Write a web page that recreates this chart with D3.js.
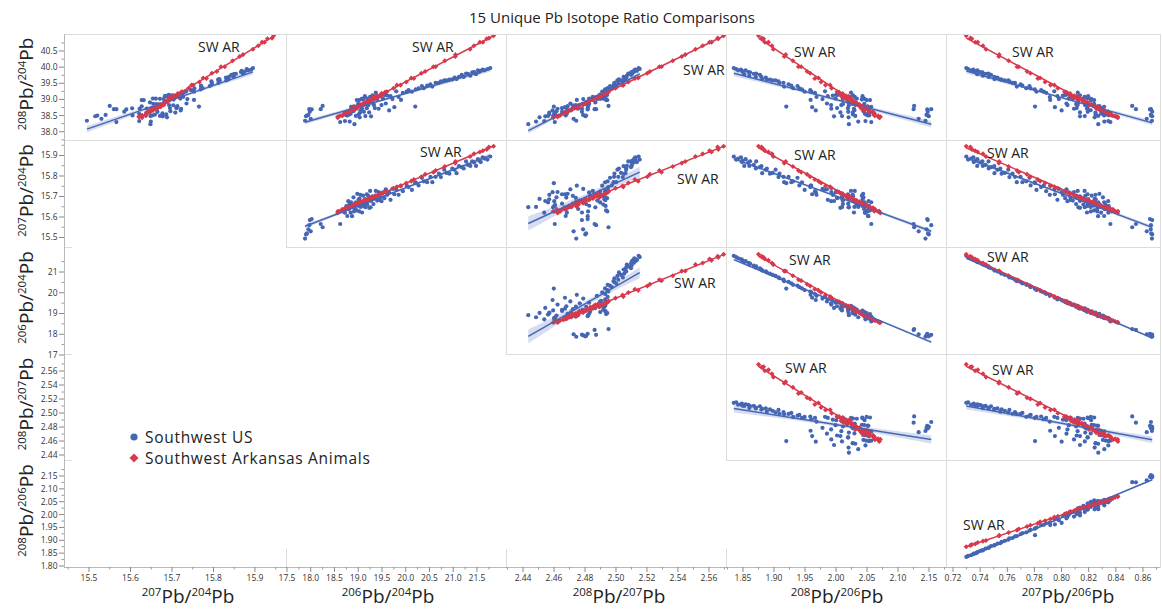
<!DOCTYPE html>
<html><head><meta charset="utf-8">
<script src="https://cdn.jsdelivr.net/npm/d3@7"></script>
<style>
body{margin:0;background:#fff;}
svg{display:block;font-family:'Open Sans',sans-serif;}
</style>
</head><body>
<svg id="chart" width="1162" height="609"></svg>
<script>
// ---------------- DATA ----------------
// Southwest US samples (206Pb/204Pb, 207Pb/204Pb, 208Pb/204Pb)
const blue206 = [17.88,17.90,17.92,17.95,17.97,18.02,18.00,17.98,18.21,18.25,18.62,
 18.72,18.75,18.77,18.79,18.80,18.82,18.84,18.85,18.87,18.88,18.90,18.92,18.93,18.95,18.97,18.98,19.00,19.02,19.03,19.05,19.07,19.08,19.10,19.12,19.14,19.15,19.17,19.19,19.21,19.23,19.25,19.27,19.30,19.32,19.35,19.37,19.40,19.43,19.46,19.49,19.52,19.55,19.58,19.61,19.65,19.68,19.72,19.76,19.80,19.85,19.90,
 19.94,20.02,20.06,20.13,20.20,20.21,20.27,20.34,20.38,20.45,20.52,20.56,20.63,20.70,20.74,20.81,20.86,20.92,20.98,21.03,21.07,21.12,21.18,21.22,21.27,21.31,21.36,21.40,21.44,21.48,21.52,21.55,21.58,21.62,21.66,21.72,21.78,
 18.81,18.91,19.01,19.11,19.18,19.26,19.33,19.44,19.57,19.04];
const blue207 = [15.495,15.515,15.520,15.540,15.560,15.590,15.530,15.585,15.566,15.550,15.566,
 15.621,15.653,15.605,15.677,15.638,15.649,15.621,15.672,15.604,15.655,15.696,15.648,15.639,15.671,15.632,15.713,15.655,15.627,15.688,15.649,15.671,15.622,15.704,15.665,15.687,15.648,15.680,15.661,15.703,15.645,15.727,15.678,15.701,15.663,15.695,15.727,15.680,15.722,15.695,15.677,15.720,15.692,15.735,15.708,15.721,15.684,15.737,15.711,15.734,15.708,15.753,
 15.726,15.753,15.746,15.732,15.765,15.769,15.754,15.791,15.774,15.770,15.796,15.770,15.796,15.812,15.795,15.831,15.815,15.811,15.836,15.830,15.814,15.848,15.843,15.837,15.871,15.854,15.849,15.872,15.866,15.849,15.882,15.875,15.868,15.891,15.885,15.880,15.895,
 15.659,15.627,15.686,15.654,15.711,15.647,15.693,15.683,15.724,15.708];
const blue208 = [38.34,38.48,38.50,38.52,38.70,38.69,38.40,38.62,38.70,38.80,38.30,
 38.329,38.508,38.506,38.568,38.584,38.315,38.557,38.771,38.725,38.739,38.637,38.234,38.716,38.490,38.980,38.792,38.867,38.980,38.446,38.666,39.018,38.712,38.997,38.617,39.100,38.485,38.860,39.024,38.820,38.597,39.082,38.479,39.130,38.856,38.734,39.209,39.011,38.712,39.120,38.826,39.027,39.140,38.874,39.120,38.659,39.100,39.010,38.760,39.250,39.076,38.984,
 39.205,39.242,39.287,39.242,38.780,39.311,39.342,39.417,39.350,39.427,39.470,39.400,39.513,39.514,39.557,39.592,39.589,39.611,39.620,39.679,39.632,39.698,39.761,39.696,39.803,39.795,39.734,39.835,39.849,39.782,39.904,39.855,39.885,39.926,39.900,39.943,39.970,
 38.532,38.786,38.538,39.030,38.730,38.909,38.826,39.100,39.148,38.594];

// Southwest Arkansas Animals samples
const red206 = [18.567,18.571,18.614,18.678,18.662,18.725,18.702,18.749,18.802,18.789,18.826,18.830,18.896,18.883,18.907,18.954,18.920,18.977,18.984,18.998,19.054,19.041,19.098,19.065,19.118,19.145,19.122,19.206,19.192,19.219,19.263,19.250,19.316,19.310,19.357,19.354,19.357,19.414,19.401,19.474,19.488,19.512,19.565,19.602,19.743,19.814,19.891,20.012,20.116,20.170,20.328,20.409,20.583,20.630,20.822,21.044,21.047,21.356,21.437,21.561,21.625,21.706,21.753,21.850];
const red207 = [15.620,15.628,15.628,15.628,15.637,15.639,15.639,15.645,15.642,15.646,15.650,15.649,15.654,15.651,15.661,15.660,15.660,15.665,15.662,15.672,15.668,15.674,15.673,15.670,15.680,15.681,15.680,15.688,15.683,15.688,15.693,15.691,15.695,15.694,15.702,15.701,15.703,15.708,15.704,15.715,15.714,15.715,15.722,15.725,15.740,15.747,15.751,15.766,15.775,15.783,15.796,15.808,15.818,15.827,15.846,15.863,15.871,15.895,15.908,15.917,15.923,15.930,15.941,15.945];
const red208 = [38.462,38.437,38.493,38.509,38.495,38.581,38.564,38.616,38.612,38.595,38.658,38.674,38.657,38.730,38.705,38.728,38.761,38.724,38.777,38.773,38.836,38.799,38.842,38.844,38.830,38.903,38.886,38.952,38.935,38.918,38.993,38.996,38.979,39.065,39.028,39.051,39.097,39.060,39.112,39.108,39.184,39.170,39.226,39.237,39.345,39.442,39.444,39.541,39.664,39.650,39.809,39.866,40.010,40.011,40.196,40.331,40.387,40.553,40.660,40.774,40.769,40.877,40.898,40.970];

const seriesNames = ["Southwest US", "Southwest Arkansas Animals"];

// variables of the matrix
const rowVars = ["208/204", "207/204", "206/204", "208/207", "208/206"];
const colVars = ["207/204", "206/204", "208/207", "208/206", "207/206"];

// tick labels
const rowTicks = [
  [38.0, 38.5, 39.0, 39.5, 40.0, 40.5],
  [15.5, 15.6, 15.7, 15.8, 15.9],
  [17, 18, 19, 20, 21],
  [2.44, 2.46, 2.48, 2.50, 2.52, 2.54, 2.56],
  [1.80, 1.85, 1.90, 1.95, 2.00, 2.05, 2.10, 2.15]
];
const colTicks = [
  [15.5, 15.6, 15.7, 15.8, 15.9],
  [17.5, 18.0, 18.5, 19.0, 19.5, 20.0, 20.5, 21.0, 21.5],
  [2.44, 2.46, 2.48, 2.50, 2.52, 2.54, 2.56],
  [1.85, 1.90, 1.95, 2.00, 2.05, 2.10, 2.15],
  [0.72, 0.74, 0.76, 0.78, 0.80, 0.82, 0.84, 0.86]
];
const rowTickFmt = [".1f", ".1f", "d", ".2f", ".2f"];
const colTickFmt = [".1f", ".1f", ".2f", ".2f", ".2f"];
const rowDomains = [[37.7446, 41.026], [15.4537, 15.9756], [17.048, 22.205], [2.4329, 2.5843], [1.7961, 2.2122]];
const colDomains = [[15.4398, 15.9747], [17.479, 22.111], [2.429, 2.571], [1.8226, 2.1774], [0.71484, 0.87254]];

// ---------------- LAYOUT ----------------
const colEdges = [64, 286, 506, 726, 946, 1160];
const rowEdges = [34, 140, 247, 354, 460, 567];
const colors = ["#4466b4", "#d7394d"];
const annot = [ // "SW AR" label positions (pixel)
  [0,0,198,52],[0,1,412,52],[0,2,683,75],[0,3,794,57],[0,4,1012,57],
  [1,1,420,157],[1,2,677,184],[1,3,794,160],[1,4,987,158],
  [2,2,674,288],[2,3,789,265],[2,4,987,262],
  [3,3,785,373],[3,4,992,375],
  [4,4,963,530]
];
const xTitleCenters = [188, 388, 619, 837, 1068];

const svg = d3.select("#chart");
const defs = svg.append("defs");

function samples(k) {
  const a = k === 0 ? blue206 : red206, b = k === 0 ? blue207 : red207, c = k === 0 ? blue208 : red208;
  return a.map((_, i) => ({
    "206/204": a[i], "207/204": b[i], "208/204": c[i],
    "207/206": b[i] / a[i], "208/206": c[i] / a[i], "208/207": c[i] / b[i]
  }));
}
const data = [samples(0), samples(1)];

const xScales = colDomains.map((d, j) => d3.scaleLinear().domain(d).range([colEdges[j], colEdges[j + 1]]));
const yScales = rowDomains.map((d, i) => d3.scaleLinear().domain(d).range([rowEdges[i + 1], rowEdges[i]]));

function fit(xs, ys) {
  const n = xs.length, mx = d3.mean(xs), my = d3.mean(ys);
  let sxx = 0, sxy = 0;
  for (let i = 0; i < n; i++) { sxx += (xs[i] - mx) ** 2; sxy += (xs[i] - mx) * (ys[i] - my); }
  const b = sxy / sxx, a = my - b * mx;
  let sse = 0;
  for (let i = 0; i < n; i++) sse += (ys[i] - a - b * xs[i]) ** 2;
  const s = Math.sqrt(sse / (n - 2));
  return { a, b, mx, sxx, s, n, x0: d3.min(xs), x1: d3.max(xs) };
}

// cell frames
const gFrames = svg.append("g");
for (let i = 0; i < 5; i++) for (let j = i; j < 5; j++) {
  gFrames.append("rect")
    .attr("x", colEdges[j] + 0.5).attr("y", rowEdges[i] + 0.5)
    .attr("width", colEdges[j + 1] - colEdges[j]).attr("height", rowEdges[i + 1] - rowEdges[i])
    .attr("fill", "none").attr("stroke", "#dcdcdc").attr("stroke-width", 1);
}
[286, 506, 726].forEach(x => gFrames.append("line").attr("x1", x + 0.5).attr("x2", x + 0.5)
  .attr("y1", 549).attr("y2", 567).attr("stroke", "#dcdcdc"));
[247, 354, 460].forEach(y => gFrames.append("line").attr("x1", 64).attr("x2", 72)
  .attr("y1", y + 0.5).attr("y2", y + 0.5).attr("stroke", "#dcdcdc"));

const diamond = d3.symbol(d3.symbolSquare, 13);

// panels
for (let i = 0; i < 5; i++) for (let j = i; j < 5; j++) {
  const xs = xScales[j], ys = yScales[i];
  const cid = `clip${i}${j}`;
  defs.append("clipPath").attr("id", cid).append("rect")
    .attr("x", colEdges[j] + 1).attr("y", rowEdges[i] + 1)
    .attr("width", colEdges[j + 1] - colEdges[j] - 1).attr("height", rowEdges[i + 1] - rowEdges[i] - 1);
  const g = svg.append("g").attr("clip-path", `url(#${cid})`);
  const fits = data.map(d => fit(d.map(p => p[colVars[j]]), d.map(p => p[rowVars[i]])));
  fits.forEach((f, k) => {
    const pts = d3.range(41).map(q => {
      const x = f.x0 + (f.x1 - f.x0) * q / 40;
      const yh = f.a + f.b * x;
      const h = 1.98 * f.s * Math.sqrt(1 / f.n + (x - f.mx) ** 2 / f.sxx);
      return [x, yh - h, yh + h];
    });
    g.append("path").datum(pts)
      .attr("d", d3.area().x(p => xs(p[0])).y0(p => ys(p[1])).y1(p => ys(p[2])))
      .attr("fill", colors[k]).attr("opacity", 0.22);
  });
  g.append("g").selectAll("circle").data(data[0]).join("circle")
    .attr("cx", p => xs(p[colVars[j]])).attr("cy", p => ys(p[rowVars[i]]))
    .attr("r", 2.1).attr("fill", colors[0]);
  g.append("g").selectAll("path").data(data[1]).join("path")
    .attr("transform", p => `translate(${xs(p[colVars[j]])},${ys(p[rowVars[i]])}) rotate(45)`)
    .attr("d", diamond).attr("fill", colors[1]);
  fits.forEach((f, k) => {
    g.append("line")
      .attr("x1", xs(f.x0)).attr("y1", ys(f.a + f.b * f.x0))
      .attr("x2", xs(f.x1)).attr("y2", ys(f.a + f.b * f.x1))
      .attr("stroke", colors[k]).attr("stroke-width", 1.5);
  });
}

annot.forEach(([i, j, x, y]) => svg.append("text").attr("x", x).attr("y", y)
  .attr("font-size", 14).attr("fill", "#222").text("SW AR"));

svg.append("line").attr("x1", 64.5).attr("x2", 64.5).attr("y1", 34).attr("y2", 567.5).attr("stroke", "#b8b8b8");
svg.append("line").attr("x1", 64).attr("x2", 1160).attr("y1", 567.5).attr("y2", 567.5).attr("stroke", "#b8b8b8");

function minorTicks(ticks, dom) {
  const step = ticks[1] - ticks[0];
  const out = [];
  const lo = Math.min(dom[0], dom[1]), hi = Math.max(dom[0], dom[1]);
  for (let v = ticks[0] - step / 2; v <= hi; v += step) if (v >= lo) out.push(v);
  return out;
}

rowTicks.forEach((ticks, i) => {
  const ys = yScales[i], f = d3.format(rowTickFmt[i]);
  const g = svg.append("g");
  ticks.forEach(t => {
    g.append("line").attr("x1", 59).attr("x2", 64).attr("y1", ys(t)).attr("y2", ys(t)).attr("stroke", "#888");
    g.append("text").attr("x", 57.5).attr("y", ys(t)).attr("dy", "0.35em").attr("text-anchor", "end")
      .attr("font-size", 8.5).attr("fill", "#333").text(f(t));
  });
  minorTicks(ticks, rowDomains[i]).forEach(t => {
    g.append("line").attr("x1", 61.5).attr("x2", 64).attr("y1", ys(t)).attr("y2", ys(t)).attr("stroke", "#999");
  });
});
colTicks.forEach((ticks, j) => {
  const xs = xScales[j], f = d3.format(colTickFmt[j]);
  const g = svg.append("g");
  ticks.forEach(t => {
    g.append("line").attr("x1", xs(t)).attr("x2", xs(t)).attr("y1", 567).attr("y2", 572).attr("stroke", "#888");
    g.append("text").attr("x", xs(t)).attr("y", 580.5).attr("text-anchor", "middle")
      .attr("font-size", 8.5).attr("fill", "#333").text(f(t));
  });
  minorTicks(ticks, colDomains[j]).forEach(t => {
    g.append("line").attr("x1", xs(t)).attr("x2", xs(t)).attr("y1", 567).attr("y2", 569.5).attr("stroke", "#999");
  });
});

function ratioTitle(sel, key) {
  const [num, den] = key.split("/");
  sel.append("tspan").attr("font-size", 11.5).attr("dy", -7.5).text(num);
  sel.append("tspan").attr("font-size", 19).attr("dy", 7.5).text("Pb/");
  sel.append("tspan").attr("font-size", 11.5).attr("dy", -7.5).text(den);
  sel.append("tspan").attr("font-size", 19).attr("dy", 7.5).text("Pb");
}
colVars.forEach((v, j) => {
  const t = svg.append("text").attr("x", xTitleCenters[j]).attr("y", 603)
    .attr("text-anchor", "middle").attr("fill", "#222");
  ratioTitle(t, v);
});
rowVars.forEach((v, i) => {
  const cy = (rowEdges[i] + rowEdges[i + 1]) / 2 - 3;
  const t = svg.append("text").attr("transform", `translate(33,${cy}) rotate(-90)`)
    .attr("text-anchor", "middle").attr("fill", "#222");
  ratioTitle(t, v);
});

svg.append("text").attr("x", 612).attr("y", 23).attr("text-anchor", "middle")
  .attr("font-size", 15).attr("fill", "#222").text("15 Unique Pb Isotope Ratio Comparisons");

const lg = svg.append("g");
lg.append("circle").attr("cx", 134).attr("cy", 437).attr("r", 3.6).attr("fill", colors[0]);
lg.append("path").attr("transform", "translate(134,458) rotate(45)").attr("d", d3.symbol(d3.symbolSquare, 40)).attr("fill", colors[1]);
seriesNames.forEach((n, k) => lg.append("text").attr("x", 145).attr("y", 442.5 + 21.5 * k)
  .attr("font-size", 15.5).attr("letter-spacing", 0.7).attr("fill", "#222").text(n));
</script>
</body></html>
